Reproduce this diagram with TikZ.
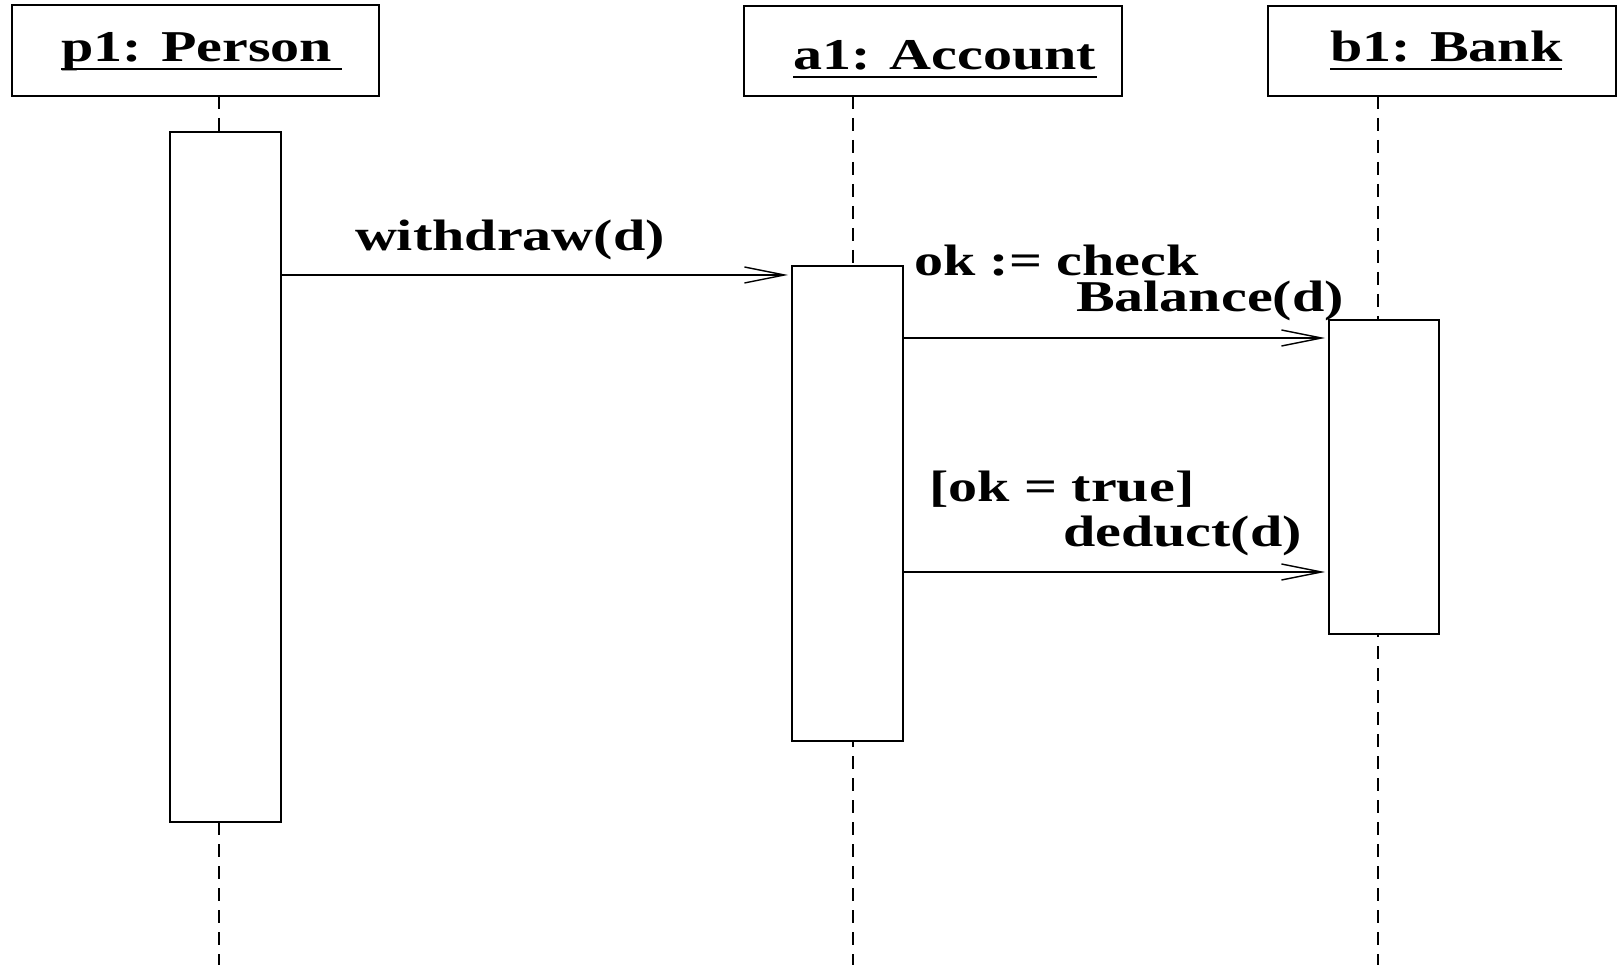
\documentclass[tikz,border=0pt]{standalone}
\usepackage{fontspec}
\usepackage{graphicx}
\setmainfont{Liberation Serif}
\usetikzlibrary{arrows.meta}
% wide bold lettering used for every label
\newcommand{\widetext}[1]{\scalebox{1.32}[1]{#1}}
\begin{document}
\begin{tikzpicture}[x=1pt,y=-1pt,
  objbox/.style={draw, line width=2pt, rectangle, inner sep=0, outer sep=0},
  actbox/.style={draw, line width=2pt, fill=white, rectangle, inner sep=0, outer sep=0},
  life/.style={line width=2.2pt, dash pattern=on 13pt off 9pt},
  msg/.style={line width=1.4pt, -{Straight Barb[length=40pt, width=16pt]}, shorten >=4pt},
  lbl/.style={inner sep=0, outer sep=0, anchor=base west, font=\fontsize{44}{46}\selectfont\bfseries},
  uline/.style={line width=2pt}]
\useasboundingbox (0,0) rectangle (1618,965);

% object headers
\node[objbox, minimum width=367pt, minimum height=91pt] (p1) at (195.5,50.5) {};
\node[objbox, minimum width=378pt, minimum height=90pt] (a1) at (933,51) {};
\node[objbox, minimum width=348pt, minimum height=90pt] (b1) at (1442,51) {};

\node[lbl] (p1t) at (61,62) {\widetext{p1: Person}};
\node[lbl] (a1t) at (793,70) {\widetext{a1: Account}};
\node[lbl] (b1t) at (1330,62) {\widetext{b1: Bank}};
\draw[uline] ([yshift=-7pt]p1t.base west) -- ++(281,0);
\draw[uline] ([yshift=-7pt]a1t.base west) -- ++(304,0);
\draw[uline] ([yshift=-7pt]b1t.base west) -- ++(232,0);

% lifelines
\coordinate (p1top) at (219,96);   \coordinate (p1end) at (219,965);
\coordinate (a1top) at (853,96);   \coordinate (a1end) at (853,965);
\coordinate (b1top) at (1378,96);  \coordinate (b1end) at (1378,965);
\draw[life] (p1top) -- (p1end);
\draw[life] (a1top) -- (a1end);
\draw[life] (b1top) -- (b1end);

% activation bars
\node[actbox, minimum width=111pt, minimum height=690pt] (p1act) at (225.5,477) {};
\node[actbox, minimum width=111pt, minimum height=475pt] (a1act) at (847.5,503.5) {};
\node[actbox, minimum width=110pt, minimum height=314pt] (b1act) at (1384,477) {};

% messages
\coordinate (m1) at (0,275);
\coordinate (m2) at (0,338);
\coordinate (m3) at (0,572);
\draw[msg] (p1act.east |- m1) -- (a1act.west |- m1);
\draw[msg] (a1act.east |- m2) -- (b1act.west |- m2);
\draw[msg] (a1act.east |- m3) -- (b1act.west |- m3);

% message labels
\node[lbl] (l1) at (355,251) {\widetext{withdraw(d)}};
\node[lbl] (l2a) at (914,276) {\widetext{ok := check}};
\node[lbl] (l2b) at (1076,312) {\widetext{Balance(d)}};
\node[lbl] (l3a) at (929,502) {\widetext{[ok = true]}};
\node[lbl] (l3b) at (1063,547) {\widetext{deduct(d)}};
\end{tikzpicture}
\end{document}
